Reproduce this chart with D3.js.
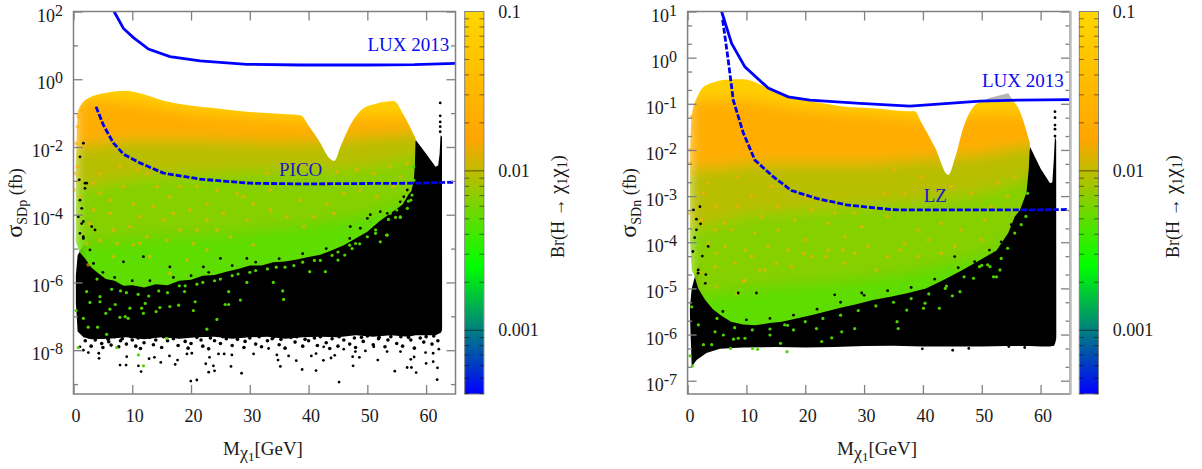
<!DOCTYPE html>
<html><head><meta charset="utf-8">
<script src="https://cdn.jsdelivr.net/npm/d3@7"></script>
<style>html,body{margin:0;background:#fff}svg{display:block}text{font-family:"Liberation Serif",serif;fill:#1a1a1a}</style>
</head><body><svg id="c" width="1202" height="469"></svg>
<script>
// All sigma values are log10(sigma/fb).
const xTicks=[0,10,20,30,40,50,60];
const brTicks=[0.1,0.01,0.001];
const pMajor=[2,0,-2,-4,-6,-8];
const pMinor=[1,-1,-3,-5,-7,-9];
const nMajor=[1,0,-1,-2,-3,-4,-5,-6,-7];

const pLuxM=[6.9,8.5,10.2,12.75,16.4,21.55,29.5,38.6,50,58,65];
const pLuxS=[2,1.5,1.23,0.89,0.67,0.54,0.44,0.42,0.42,0.43,0.47];
const pPicoM=[3.83,5.08,6.78,8.5,11.3,15.3,21.55,30,38.6,57.8,65];
const pPicoS=[-0.81,-1.35,-1.88,-2.21,-2.47,-2.77,-2.95,-3.07,-3.09,-3.07,-3.04];
const nLuxM=[5.78,7.48,9.74,13.7,17.1,20.8,29.3,37.8,49.7,56.2,64.9];
const nLuxS=[1,0.31,-0.2,-0.66,-0.85,-0.92,-0.99,-1.05,-0.94,-0.92,-0.91];
const nLzM=[5.96,6.9,7.76,9.46,11.44,14.55,17.67,21.9,27,34.4,36.4,57.3,64.5];
const nLzS=[0.82,-0.05,-0.92,-1.63,-2.22,-2.58,-2.88,-3.05,-3.19,-3.29,-3.3,-3.3,-3.29];

// black (all scan points) envelope
const pBlackM=[0.4,0.7,1.7,3,6,9,12,15,18,21,24,27,30,33,36,39,42,45,48,51,54,57,58.2,60,61.6,62.05,62.3,62.45,62.7,62.72];
const pBlackHi=[-5.8,-5.2,-4.9,-4.6,-3.6,-3.6,-3.6,-3.6,-3.6,-3.6,-3.6,-3.6,-3.6,-3.6,-3.6,-3.6,-3.6,-3.6,-3.6,-3.6,-3.2,-2.6,-1.79,-2.2,-2.58,-2.55,-2.2,-1.65,-1.7,-7.3];
const pBlackLo=[-6.6,-7.45,-7.62,-7.68,-7.66,-7.62,-7.68,-7.62,-7.66,-7.62,-7.6,-7.66,-7.62,-7.6,-7.66,-7.62,-7.6,-7.62,-7.56,-7.6,-7.56,-7.6,-7.56,-7.56,-7.56,-7.52,-7.5,-7.5,-7.42,-7.35];
const nBlackM=[0.4,0.7,1.54,3.2,5.5,9.4,15,20,25,30,35,40,45,50,54,57,58.2,60,61.6,62,62.25,62.45,62.65,62.67];
const nBlackHi=[-5.4,-5,-4.6,-4.2,-4.2,-4.2,-4.2,-4.2,-4.2,-4.2,-4.2,-4.2,-4,-3.6,-3.2,-2.6,-1.93,-2.4,-2.72,-2.7,-2.2,-1.7,-1.8,-6];
const nBlackLo=[-5.6,-6.7,-6.55,-6.4,-6.31,-6.28,-6.27,-6.28,-6.27,-6.25,-6.24,-6.26,-6.26,-6.26,-6.25,-6.25,-6.25,-6.26,-6.26,-6.25,-6.25,-6.2,-6.1,-6];

// coloured envelope: upper edge
const pColM=[0.4,0.8,2.5,5.65,8.8,11.9,15.9,19.3,23.8,29.5,36.3,38.6,40.3,42,43.4,44.4,45.4,47.1,49.4,51.5,54.5,56.2,58.2];
const pColHi=[-2.6,-0.91,-0.56,-0.4,-0.34,-0.44,-0.66,-0.76,-0.85,-0.96,-1.03,-1.06,-1.44,-1.88,-2.3,-2.41,-2,-1.35,-0.85,-0.72,-0.64,-1.06,-1.74];
const nColM=[0.4,0.7,1.8,2.95,6.63,9.46,12.9,16.8,23,26.4,32.1,37.8,38.6,39.8,42.1,44.3,45.5,46.9,49.7,51.4,54.5,55.6,58.2];
const nColHi=[-2.2,-1.24,-0.81,-0.61,-0.48,-0.47,-0.61,-0.81,-0.99,-1.06,-1.1,-1.16,-1.16,-1.42,-1.96,-2.54,-2.15,-1.5,-0.96,-0.93,-0.92,-0.98,-1.85];
// coloured envelope: lower edge
const pEdgeM=[0.4,1,2,3,4,5.5,7,8.5,10,12,14,16,18,20,22,24,26,28,30,32,34,36,38,40,42,44,46,48,50,52,54,56,57,57.5,57.9,58.1,58.2];
const pEdgeS=[-4.8,-5.1,-5.3,-5.55,-5.7,-5.9,-5.95,-6.1,-6.08,-6.15,-6.05,-6.08,-5.95,-5.92,-5.8,-5.78,-5.68,-5.6,-5.5,-5.5,-5.4,-5.38,-5.32,-5.25,-5.18,-5.05,-4.9,-4.7,-4.5,-4.2,-3.95,-3.7,-3.4,-3.3,-3,-2.5,-1.8];
const nEdgeM=[0.4,0.7,1.2,1.8,3,4.3,5.8,7.4,9.4,11.5,14,16,18.5,21,23.5,26,28.5,31.5,34.5,37.5,40.5,43.5,46.5,49.5,52.5,54.5,55.6,56.5,57.6,58,58.2];
const nEdgeS=[-4,-4.6,-4.75,-5,-5.25,-5.45,-5.6,-5.72,-5.78,-5.8,-5.75,-5.72,-5.65,-5.58,-5.5,-5.42,-5.35,-5.25,-5.18,-5.1,-5,-4.82,-4.62,-4.4,-4.18,-3.8,-3.45,-3.3,-2.93,-2.4,-1.85];
const nGreyM=[49.7,51.4,54.5,55.6];
const nGreyHi=[-0.96,-0.87,-0.77,-0.98];
const nGreyLo=[-0.94,-0.93,-0.92,-0.92];

// branching-ratio contours inside the coloured envelope
const ctM=[0,5,10,20,30,40,50,58,63];
const pGold=[-0.6,-0.6,-0.65,-0.95,-1.1,-1.2,-1.05,-1.1,-1.1];
const pOrange=[-2,-1.9,-1.8,-1.8,-1.85,-1.85,-1.7,-1.6,-1.6];
const pMix=[-3.2,-3.1,-2.9,-2.8,-2.7,-2.7,-2.6,-2.3,-2.3];
const pLime=[-4.8,-4.8,-4.7,-4.6,-4.5,-4.3,-4,-3.5,-3.5];
const nGold=[-0.9,-0.9,-0.9,-1.1,-1.2,-1.3,-1.2,-1.2,-1.2];
const nOrange=[-2.4,-2.4,-2.3,-2.3,-2.3,-2.2,-2.1,-1.9,-1.9];
const nMix=[-3.7,-3.6,-3.4,-3.3,-3.2,-3.1,-2.9,-2.6,-2.6];
const nLime=[-5.1,-5.1,-5,-4.9,-4.8,-4.6,-4.3,-3.7,-3.7];
const bandBr=[0.075,0.021,0.0095,0.0066,0.0049];

// individually read points
const pSparseM=[7.92,8.95,11.05,11.5,14.85,17.3,17.7,16.33,19.96,20.98,22.5,23,23.8,24,26.8,28.6,35.2,34.8,37.9,9.06,12.86,13.77,19.3,20.13,23.14,24.67,25.64,26.95,30.64,34.6,36.6,33.2,4.35,4.3,2.53,1.68,1.1,38.9,41.27,45.19,47.57,54.67,56.77,57.5,58.3,61.88,61.94,60,61.2,40.47,41.27,42.52,43.82,44.45,47.5,48.65,49.67,51.77,57.4,57.96,59.9,61.2,62.17,42.57,45.98,47.97,51.1,53.36,55.64,62.4,62.4,62.4,62.4,62.4,1.68,1.1,0.99,2.24,1.96,1.1,1.4,0.82,1.68,3.1,1.1,1.68,3.66,11.9,8.5,16.4,22.1,25,29.5,1.67,2.8,3.4,1.96,1.39,56.8,56.2,55.6,53.4,52.2,50,48.8,47.1,50.5,5,7,10,13,17,20,23,27,31,35,39,43,47];
const pSparseS=[-8.44,-8.44,-8.46,-8.63,-8.36,-8.42,-8.29,-8.17,-8.91,-8.88,-8.4,-8.65,-8.46,-8.61,-8.48,-8.68,-8.48,-8.29,-8.31,-8.19,-8.25,-8.21,-8.11,-8.09,-8.21,-8.11,-8.11,-8.14,-8.11,-8.14,-8.17,-7.95,-8.24,-8.09,-8.07,-8,-7.9,-8.57,-8.6,-8.94,-8.46,-8.62,-8.51,-8.51,-8.66,-8.87,-8.52,-8.39,-8.34,-8.17,-8.1,-8.3,-8.23,-8.15,-8.19,-8.21,-8.02,-8.29,-8.27,-8.2,-8.07,-8.09,-7.97,-7.9,-7.97,-8.04,-7.9,-8.04,-8.04,-0.7,-1.08,-1.26,-1.4,-1.55,-1.89,-2.29,-2.97,-3.07,-3.22,-3.57,-3.81,-4.06,-4.2,-4.35,-4.55,-4.7,-4.45,-5.24,-5.39,-5.54,-5.54,-5.29,-5.29,-4.65,-5.04,-5.44,-3.07,-4.26,-3.27,-3.47,-3.62,-3.96,-3.91,-4.11,-4.4,-4.35,-4,-5.7,-5.85,-5.95,-5.95,-5.85,-5.8,-5.7,-5.5,-5.4,-5.3,-5.15,-5,-4.7];
const pGreenM=[0.43,0.82,11.05,11.9,7.35,15.87,22.7,24.4,28.4,35.75,35.6,34,29.5,26.4,25.8,26.4,20.7,20.4,18.9,17.9,16.4,14.7,14.06,11.9,9.6,9.3,8.8,7.9,6.2,5.5,7.1,4.5,2.8,2.5,4.1,5.65,1.68,2.24,4.5,12.2,11.6,42.86,40.2,45,46.15,47.4,48.7,52.2,53.25,51.4,55.6,57,57.6,55,53.9,50.5,54.8,55.6,53.4,51.4,53.6,56.8,57.4,57.9,57.9,4,6.5,9,12.8,16,19,22,25,28,31,34.5,37.5,41,44,47,50,8,11,14.5,18,21,24,27,30,33,36,39,42,45,48];
const pGreenS=[-6.83,-7.92,-8.14,-8.46,-7.92,-7.65,-7.38,-7.09,-6.52,-6.5,-6.25,-6,-6,-6.27,-6.65,-6.65,-6.57,-6.83,-6.27,-6.67,-6.71,-6.74,-6.86,-6.91,-6.76,-7.06,-7.01,-7.03,-6.79,-6.91,-6.65,-6.57,-6.59,-7.32,-7.32,-7.53,-7.06,-6.27,-6.42,-6.62,-6.76,-5.68,-5.68,-5.34,-5.19,-5,-4.86,-4.8,-4.6,-4.45,-4.06,-3.6,-3.42,-3.86,-3.96,-4.2,-4.08,-4.08,-4.6,-4.55,-4.14,-3.81,-3.57,-2.98,-2.58,-5.9,-6.2,-6.3,-6.4,-6.3,-6.1,-6,-5.9,-5.75,-5.65,-5.55,-5.5,-5.35,-5.2,-4.9,-4.65,-6.25,-6.35,-6.25,-6.1,-6.05,-5.95,-5.8,-5.7,-5.6,-5.55,-5.4,-5.35,-5.1,-4.85];
const pSpeckM=[4.5,6.2,8.5,12.5,14.2,16.4,6.8,12.5,19.8,22.7,25.5,28.9,29.5,18.1,15.3,10.2,11.3,4.5,3.4,2.8,3.4,6.2,9.6,21,24.4,7.9,10.8,18.1,21,24.4,27.8,30.6,17,13.6,22.7,26.7,4.5,7.4,11.3,15.9,33.5,38.6,43.1,46,48.8,51.6,54.5,33.5,36.3,40.9,44.3,39.2,48.2,51.1,53.9,55.6,44.8,32.9,43.1,56.8,10.2,2.24,20.4,16.4,2.5,22.7,30.6,13,6.8,19.3,0.82,1.4,0.65,0.43,0.26,0.09,1.1,0.65];
const pSpeckS=[-3.37,-3.96,-3.17,-2.78,-3.17,-3.47,-4.45,-4.65,-3.86,-3.67,-3.96,-3.47,-4.16,-4.45,-4.16,-3.67,-4.06,-2.78,-3.07,-4.26,-3.86,-3.57,-4.35,-4.45,-4.45,-2.58,-2.68,-3.17,-3.17,-3.27,-3.37,-3.67,-3.96,-3.76,-4.16,-4.65,-4.75,-4.85,-4.85,-4.75,-3.27,-3.57,-3.67,-3.37,-3.27,-3.47,-3.17,-3.86,-4.06,-4.06,-3.96,-4.35,-2.68,-2.78,-2.58,-2.88,-2.73,-2.78,-3.07,-2.48,-4.89,-4.85,-4.85,-5.73,-5.48,-5.04,-4.89,-5.24,-5.24,-5.34,-1.1,-0.91,-1.4,-1.89,-2.78,-3.27,-3.47,-2.58];
const nSparseM=[39.9,45.06,47.8,54.6,57.3,62.45,62.45,62.45,62.45,62.45,1.0,1.5,2.2,1.2,0.9,2.5,1.8,3.1,11.7,8.6,25,29.6,1.8,3,3.5,2.1,1.5,53.3,55,56.7,51.3,48.8,45.4,49.9,6,10,14,18,22,26,30,34,38,42,46];
const nSparseS=[-6.31,-6.34,-6.3,-6.26,-6.28,-1.17,-1.46,-1.55,-1.7,-1.3,-3.3,-3.5,-3.6,-3.9,-4.2,-4.3,-4.6,-4.7,-5.1,-5.1,-5.14,-5.1,-4.67,-4.89,-4.09,-3.23,-3.73,-3.99,-3.62,-3.34,-4.17,-4.42,-4.31,-4.42,-5.5,-5.68,-5.65,-5.58,-5.45,-5.3,-5.15,-5.05,-4.98,-4.8,-4.55];
const nGreenM=[0.41,0.81,7.3,11.05,11.9,16.9,15.8,22.8,24.5,28.4,35.8,35.6,26.2,21.9,18,16.5,14,9.75,8.6,7.8,6.07,4.66,2.7,4.1,1.83,0.7,42.8,40.36,45,46.3,48.6,52,52.5,53.1,51.4,43.8,40.1,37.25,55.6,54.4,53.3,51,49.6,56.7,57.5,57.8,5,8,11,14,17,20,23,26,29,32,35,38,41,44,47,50];
const nGreenS=[-6.46,-6.68,-6.3,-6.3,-6.32,-6.37,-6.19,-6.15,-6.07,-5.87,-5.87,-5.72,-5.94,-5.87,-5.9,-5.79,-6.01,-6.08,-6.08,-6.1,-6.01,-5.94,-6.22,-6.22,-5.79,-5.4,-5.43,-5.32,-5.16,-5.07,-4.78,-4.75,-4.75,-4.6,-4.53,-5,-5.43,-5.47,-3.8,-4.13,-4.35,-4.49,-4.53,-3.62,-3.44,-2.94,-5.65,-5.85,-5.9,-5.88,-5.8,-5.72,-5.65,-5.58,-5.48,-5.38,-5.3,-5.22,-5.12,-4.95,-4.75,-4.5];
const nSpeckM=[3.5,4.66,6.35,8.6,10.9,12.6,15.4,18.2,21.1,23.9,26.7,29.6,6.35,9.75,13.7,17.1,20,23.9,28.4,9.75,13.1,4.66,3.5,8.6,14.3,20,25,28.4,4.66,7.5,11.4,15.4,21.1,8.05,17.7,26.7,30.7,2.7,2.4,10.9,34,39.2,43.1,46.5,50.5,54.4,36.9,40.9,45.4,49.9,35.2,39.7,44.8,48.2,52.7,55.6,33.5,36.9,51.6,43.1,39.2,34,9.5,4.9,2.1,12.3,19.7,15.1,23.6,32.1,4.9,8.3,26.4,36.1,0.7,0.41,0.41,0.13,1];
const nSpeckS=[-2.72,-3.23,-3.59,-3.23,-3.01,-3.44,-3.23,-3.52,-3.3,-3.59,-3.88,-3.66,-4.09,-4.17,-4.09,-4.17,-3.95,-4.17,-4.24,-4.82,-4.6,-4.53,-4.02,-2.58,-2.79,-3.01,-3.37,-3.37,-3.73,-3.73,-3.8,-3.73,-4.31,-4.45,-4.53,-4.45,-4.09,-2.94,-3.52,-4.31,-3.44,-3.73,-3.59,-3.73,-3.52,-3.01,-4.02,-3.95,-4.09,-3.95,-2.43,-2.58,-2.79,-2.94,-2.72,-2.58,-2.94,-2.94,-3.23,-4.24,-4.31,-4.31,-4.85,-4.24,-4.67,-4.6,-4.24,-4.46,-4.31,-4.6,-4.96,-5.11,-4.17,-4.17,-1.28,-2,-2.29,-3.37,-2.5];
const pFringeM=[2,2.6,3,3.7,4,4.8,5,5.9,6,6.4,7,7.7,8,8.3,9,9.8,10,10.6,11,11.4,12,13,13.6,14,15,15.3,16,17,17.8,18,19,19.5,20,21,21.7,22,23,23.3,24,25,25.4,26,27,27.9,28,29,29.2,30,31,31.6,32,33,33.8,34,35,35.3,36,37,37.7,38,39,39.4,40,41,41.5,42,43,43.6,44,45,45.2,46,47,47.8,48,49,49.3,50,51,51.9,52,53,53.5,54,55,55.7,56,57,57.4,58,59,59.6,60,61,61.3,62];
const pFringeS=[-7.72,-7.6,-7.88,-7.7,-7.62,-7.8,-7.92,-7.68,-7.75,-7.85,-7.6,-7.9,-7.72,-7.66,-7.82,-7.6,-7.7,-7.88,-7.64,-7.95,-7.78,-7.62,-7.84,-7.7,-7.92,-7.6,-7.72,-7.66,-7.86,-7.6,-7.74,-7.94,-7.8,-7.62,-7.7,-7.88,-7.96,-7.64,-7.72,-7.8,-7.6,-7.66,-7.86,-7.68,-7.6,-7.92,-7.74,-7.64,-7.82,-7.6,-7.9,-7.72,-7.66,-7.62,-7.84,-7.68,-7.94,-7.62,-7.76,-7.6,-7.88,-7.68,-7.72,-7.64,-7.86,-7.6,-7.78,-7.95,-7.66,-7.88,-7.6,-7.7,-7.82,-7.64,-7.92,-7.62,-7.74,-7.58,-7.84,-7.66,-7.62,-7.9,-7.7,-7.6,-7.8,-7.6,-7.88,-7.62,-7.7,-7.94,-7.64,-7.76,-7.6,-7.82,-7.58,-7.72];

const svg=d3.select("#c");
const defs=svg.append("defs");
defs.append("filter").attr("id","soft").attr("x","-10%").attr("y","-10%").attr("width","120%").attr("height","120%")
  .append("feGaussianBlur").attr("stdDeviation",7);

const brMin=Math.pow(10,-3.4);
const t3=[0,1,2,3].map(i=>Math.pow(10,-3.4+0.8*i));
const color=d3.scaleLog().domain(t3).range(["#0000ff","#00ff00","#ffa500","#ffd700"]).interpolate(d3.interpolateRgb);

const F="#808080";
function zip(m,s){return m.map((d,i)=>[d,s[i]]);}

function panel(o){
  const g=svg.append("g");
  const x=d3.scaleLinear().domain([0,65]).range(o.xr);
  const y=d3.scaleLog().domain([Math.pow(10,o.yMin),Math.pow(10,o.yMax)]).range([394,11.5]);
  const Y=e=>y(Math.pow(10,e));
  const id="clip"+o.id;
  defs.append("clipPath").attr("id",id).append("rect").attr("x",o.xr[0]).attr("y",11.5).attr("width",o.xr[1]-o.xr[0]+1).attr("height",382.5);
  const plot=g.append("g").attr("clip-path",`url(#${id})`);
  const area=d3.area().x(d=>x(d[0])).y0(d=>Y(d[2])).y1(d=>Y(d[1]));
  const tri=(m,a,b)=>m.map((d,i)=>[d,a[i],b[i]]);
  // black envelope
  plot.append("path").attr("d",area(tri(o.bM,o.bHi,o.bLo))).attr("fill","#000");
  if(o.fM) plot.append("g").selectAll("circle").data(zip(o.fM,o.fS)).join("circle")
    .attr("cx",d=>x(d[0])).attr("cy",d=>Y(d[1])).attr("r",1.8).attr("fill","#000");
  // grey above limit
  if(o.gM) plot.append("path").attr("d",area(tri(o.gM,o.gHi,o.gLo))).attr("fill","#b5b5b5");
  // coloured envelope with branching-ratio bands
  const cid="col"+o.id;
  const lineC=d3.line().x(d=>x(d[0])).y(d=>Y(d[1])).curve(d3.curveMonotoneX);
  const lineL=d3.line().x(d=>x(d[0])).y(d=>Y(d[1]));
  const env=lineC(zip(o.cM,o.cHi))+"L"+lineL(zip(o.eM,o.eS).reverse()).slice(1)+"Z";
  defs.append("clipPath").attr("id",cid).append("path").attr("d",env);
  const cg=plot.append("g").attr("clip-path",`url(#${cid})`).append("g").attr("filter","url(#soft)");
  const top=ctM.map(()=>o.yMax+1), bot=ctM.map(()=>o.yMin-1);
  const edges=[top,o.gold,o.orange,o.mix,o.lime,bot];
  edges.slice(0,5).forEach((e,i)=>{
    cg.append("path").attr("d",area(tri(ctM,e,edges[i+1]))).attr("fill",color(bandBr[i]));
  });
  // orange speckle
  plot.append("g").selectAll("circle").data(zip(o.kM,o.kS)).join("circle")
    .attr("cx",d=>x(d[0])).attr("cy",d=>Y(d[1])).attr("r",1.9).attr("fill",color(0.02)).attr("fill-opacity",.6);
  // sparse points
  plot.append("g").selectAll("circle").data(zip(o.sM,o.sS)).join("circle")
    .attr("cx",d=>x(d[0])).attr("cy",d=>Y(d[1])).attr("r",1.4).attr("fill","#000");
  plot.append("g").selectAll("circle").data(zip(o.nM,o.nS)).join("circle")
    .attr("cx",d=>x(d[0])).attr("cy",d=>Y(d[1])).attr("r",1.6).attr("fill","#4fd400");
  // limit lines
  const line=d3.line().x(d=>x(d[0])).y(d=>Y(d[1]));
  g.append("path").attr("d",line(zip(o.l1M,o.l1S))).attr("fill","none").attr("stroke","#0000ff").attr("stroke-width",2.8);
  g.append("path").attr("d",line(zip(o.l2M,o.l2S))).attr("fill","none").attr("stroke","#0000f0").attr("stroke-width",2.8).attr("stroke-dasharray","6,2");
  // frame & ticks via d3 axes
  const style=a=>{a.select(".domain").remove();a.selectAll("line").attr("stroke",F).attr("stroke-width",1.3);a.selectAll("text").remove();};
  g.append("g").attr("transform","translate(0,394)").call(d3.axisBottom(x).tickValues(xTicks).tickSize(-9).tickFormat("")).call(style);
  g.append("g").attr("transform","translate(0,11.5)").call(d3.axisTop(x).tickValues(xTicks).tickSize(-9).tickFormat("")).call(style);
  const maj=o.major.map(e=>Math.pow(10,e));
  g.append("g").attr("transform",`translate(${o.xr[0]},0)`).call(d3.axisLeft(y).tickValues(maj).tickSize(-9).tickFormat("")).call(style);
  g.append("g").attr("transform",`translate(${o.xr[1]},0)`).call(d3.axisRight(y).tickValues(maj).tickSize(-9).tickFormat("")).call(style);
  g.append("g").attr("transform",`translate(${o.xr[0]},0)`).call(d3.axisLeft(y).tickValues(o.minor).tickSize(-4.5).tickFormat("")).call(style);
  g.append("g").attr("transform",`translate(${o.xr[1]},0)`).call(d3.axisRight(y).tickValues(o.minor).tickSize(-4.5).tickFormat("")).call(style);
  g.append("rect").attr("x",o.xr[0]).attr("y",11.5).attr("width",o.xr[1]-o.xr[0]).attr("height",382.5).attr("fill","none").attr("stroke",F).attr("stroke-width",1.5);
  if(o.id==="n") g.append("line").attr("x1",o.xr[1]+0.5).attr("x2",o.xr[1]+0.5).attr("y1",11).attr("y2",394.5).attr("stroke","#bdbdbd").attr("stroke-width",2.5);
  // tick labels
  xTicks.forEach(t=>g.append("text").attr("x",x(t)+2.5).attr("y",422).attr("text-anchor","middle").attr("font-size",18).text(t));
  o.major.forEach(e=>{
    const tx=g.append("text").attr("x",o.xr[0]-10.5).attr("y",Y(e)+10).attr("text-anchor","end").attr("font-size",18);
    tx.append("tspan").text("10");
    tx.append("tspan").attr("font-size",16).attr("dy",-6).text(e);
  });
  // x title
  const xt=g.append("text").attr("x",x(0)+149.5).attr("y",455).attr("font-size",19);
  xt.append("tspan").text("M");
  xt.append("tspan").attr("font-size",18).attr("dy",4).text("χ");
  xt.append("tspan").attr("font-size",13).attr("dy",2).text("1");
  xt.append("tspan").attr("dy",-6).text("[GeV]");
  // y title
  const yt=g.append("text").attr("transform",`translate(${o.yTitleX},203) rotate(-90)`).attr("text-anchor","middle").attr("font-size",18);
  yt.append("tspan").attr("font-size",24).text("σ");
  yt.append("tspan").attr("font-size",14).attr("dy",5).text(o.sub);
  yt.append("tspan").attr("dy",-5).text(" (fb)");
  // limit labels
  o.labels.forEach(l=>g.append("text").attr("x",l[1]).attr("y",l[2]).attr("font-size",19).style("fill",l[3]).text(l[0]));
  // colour bar
  const cx=o.barX, cw=19.2;
  const cy=d3.scaleLog().domain([brMin,0.1]).range([394,11.5]);
  const gid="grad"+o.id;
  const lg=defs.append("linearGradient").attr("id",gid).attr("x1",0).attr("x2",0).attr("y1",1).attr("y2",0);
  t3.forEach((b,i)=>lg.append("stop").attr("offset",(i/3)).attr("stop-color",color(b)));
  g.append("rect").attr("x",cx).attr("y",11.5).attr("width",cw).attr("height",382.5).attr("fill",`url(#${gid})`).attr("stroke",F).attr("stroke-width",1);
  const minorBr=[];
  [0.01,0.001,0.0001].forEach(dec=>{for(let k=2;k<=9;k++){const v=k*dec;if(v<0.1&&v>brMin)minorBr.push(v);}});
  minorBr.forEach(v=>{
    [[cx,cx+4.5],[cx+cw-4.5,cx+cw]].forEach(s=>g.append("line").attr("x1",s[0]).attr("x2",s[1]).attr("y1",cy(v)).attr("y2",cy(v)).attr("stroke","#000").attr("stroke-opacity",.5));
  });
  brTicks.slice(1).forEach(v=>g.append("line").attr("x1",cx).attr("x2",cx+cw).attr("y1",cy(v)).attr("y2",cy(v)).attr("stroke","#000").attr("stroke-opacity",.55));
  brTicks.forEach(v=>g.append("text").attr("x",cx+33.5).attr("y",cy(v)+6).attr("font-size",18).text(v));
  const bt=g.append("text").attr("transform",`translate(${cx+99.5},258) rotate(-90)`).attr("font-size",18);
  bt.append("tspan").text("Br(H → ");
  bt.append("tspan").attr("font-size",21).text("χ");
  bt.append("tspan").attr("font-size",14).attr("dy",3).text("1");
  bt.append("tspan").attr("font-size",21).attr("dy",-3).text("χ");
  bt.append("tspan").attr("font-size",14).attr("dy",3).text("1");
  bt.append("tspan").attr("dy",-3).text(")");
}

const minorN=[];
for(let e=1;e>=-8;e--){[2,5].forEach(k=>{const v=k*Math.pow(10,e-1);if(v<=10&&v>=Math.pow(10,-7.29))minorN.push(v);});}

panel({id:"p",xr:[73.5,455.5],yMin:-9.293,yMax:2,major:pMajor,minor:pMinor.map(e=>Math.pow(10,e)),
  bM:pBlackM,bHi:pBlackHi,bLo:pBlackLo,cM:pColM,cHi:pColHi,eM:pEdgeM,eS:pEdgeS,gold:pGold,orange:pOrange,mix:pMix,lime:pLime,
  sM:pSparseM,sS:pSparseS,fM:pFringeM,fS:pFringeS,nM:pGreenM,nS:pGreenS,kM:pSpeckM,kS:pSpeckS,
  l1M:pLuxM,l1S:pLuxS,l2M:pPicoM,l2S:pPicoS,sub:"SDp",yTitleX:22,barX:464.7,
  labels:[["LUX 2013",367.5,51,"#0a0aee"],["PICO",279,176,"#1a1ac8"]]});
panel({id:"n",xr:[687.6,1070],yMin:-7.288,yMax:1,major:nMajor,minor:minorN,
  bM:nBlackM,bHi:nBlackHi,bLo:nBlackLo,cM:nColM,cHi:nColHi,eM:nEdgeM,eS:nEdgeS,gold:nGold,orange:nOrange,mix:nMix,lime:nLime,
  gM:nGreyM,gHi:nGreyHi,gLo:nGreyLo,
  sM:nSparseM,sS:nSparseS,nM:nGreenM,nS:nGreenS,kM:nSpeckM,kS:nSpeckS,
  l1M:nLuxM,l1S:nLuxS,l2M:nLzM,l2S:nLzS,sub:"SDn",yTitleX:636,barX:1079.3,
  labels:[["LUX 2013",982,87,"#0a0aee"],["LZ",923.7,201.7,"#1a1ac8"]]});
</script></body></html>
